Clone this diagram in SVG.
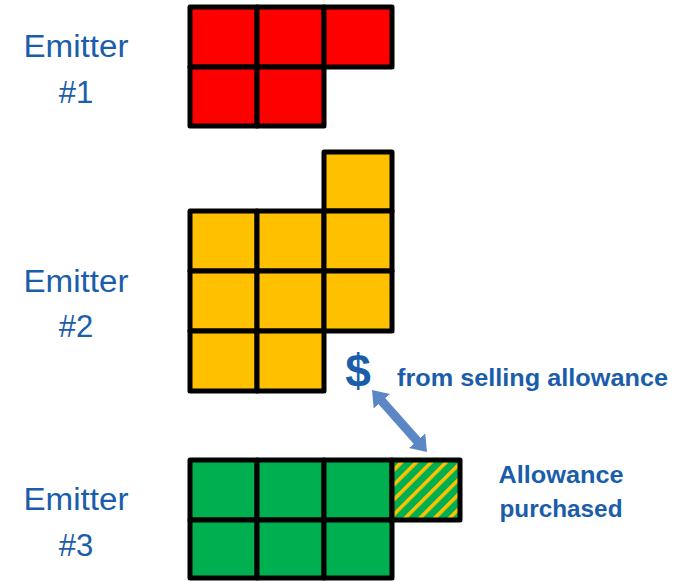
<svg xmlns="http://www.w3.org/2000/svg" width="688" height="581" viewBox="0 0 688 581">
<style>
.cell{stroke:#000;stroke-width:5;stroke-linejoin:round}
.r{fill:#FF0000}
.y{fill:#FFC000}
.g{fill:#00B050}
.lbl{font-family:"Liberation Sans",Arial,sans-serif;font-size:31px;fill:#1A5DAB;text-anchor:middle}
.note{font-family:"Liberation Sans",Arial,sans-serif;font-weight:bold;font-size:24px;fill:#1A5DAB}
</style>
<defs>
<pattern id="hatch" patternUnits="userSpaceOnUse" width="10.5" height="10.5" patternTransform="rotate(45)">
<rect x="0" y="0" width="10.5" height="10.5" fill="#00B050"/>
<rect x="0" y="0" width="3.6" height="10.5" fill="#FFC000"/>
</pattern>
<marker id="ah" markerUnits="userSpaceOnUse" viewBox="0 0 15 22" markerWidth="15" markerHeight="22" refX="1" refY="11" orient="auto-start-reverse">
<path d="M0,0 L15,11 L0,22 z" fill="#5B87C5"/>
</marker>
</defs>

<g id="emitter1">
<text class="lbl" x="76" y="57" textLength="105" lengthAdjust="spacingAndGlyphs">Emitter</text>
<text class="lbl" x="76" y="103">#1</text>
<rect class="cell r" x="190" y="7" width="67" height="60"/>
<rect class="cell r" x="257" y="7" width="67" height="60"/>
<rect class="cell r" x="324" y="7" width="68" height="60"/>
<rect class="cell r" x="190" y="67" width="67" height="59"/>
<rect class="cell r" x="257" y="67" width="67" height="59"/>
</g>

<g id="emitter2">
<text class="lbl" x="76" y="292" textLength="105" lengthAdjust="spacingAndGlyphs">Emitter</text>
<text class="lbl" x="76" y="337">#2</text>
<rect class="cell y" x="324" y="152" width="68" height="59"/>
<rect class="cell y" x="190" y="211" width="67" height="60"/>
<rect class="cell y" x="257" y="211" width="67" height="60"/>
<rect class="cell y" x="324" y="211" width="68" height="60"/>
<rect class="cell y" x="190" y="271" width="67" height="60"/>
<rect class="cell y" x="257" y="271" width="67" height="60"/>
<rect class="cell y" x="324" y="271" width="68" height="60"/>
<rect class="cell y" x="190" y="331" width="67" height="60"/>
<rect class="cell y" x="257" y="331" width="67" height="60"/>
</g>

<g id="emitter3">
<text class="lbl" x="76" y="510" textLength="105" lengthAdjust="spacingAndGlyphs">Emitter</text>
<text class="lbl" x="76" y="556">#3</text>
<rect class="cell g" x="190" y="460" width="67" height="60"/>
<rect class="cell g" x="257" y="460" width="67" height="60"/>
<rect class="cell g" x="324" y="460" width="68" height="60"/>
<rect class="cell g" x="190" y="520" width="67" height="58"/>
<rect class="cell g" x="257" y="520" width="67" height="58"/>
<rect class="cell g" x="324" y="520" width="68" height="58"/>
</g>

<g id="allowance">
<rect class="cell" x="392" y="460" width="68" height="60" fill="url(#hatch)"/>
<text class="note" x="561" y="483" text-anchor="middle" textLength="125" lengthAdjust="spacingAndGlyphs">Allowance</text>
<text class="note" x="561" y="517" text-anchor="middle" textLength="123" lengthAdjust="spacingAndGlyphs">purchased</text>
</g>

<g id="payment">
<text x="358" y="387" text-anchor="middle" style="font-family:'Liberation Sans',Arial,sans-serif;font-weight:bold;font-size:46px;fill:#1A5DAB">$</text>
<text class="note" x="397" y="386" textLength="271" lengthAdjust="spacingAndGlyphs">from selling allowance</text>
</g>

<g id="connectors">
<line x1="381.3" y1="400.5" x2="417.7" y2="441.5" stroke="#5B87C5" stroke-width="9" marker-start="url(#ah)" marker-end="url(#ah)"/>
</g>
</svg>
